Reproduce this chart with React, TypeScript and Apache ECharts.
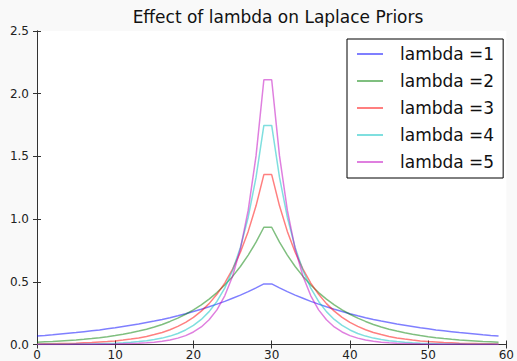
import React, { useEffect, useRef } from "react";
import * as echarts from "echarts";

const xs = [0,1,2,3,4,5,6,7,8,9,10,11,12,13,14,15,16,17,18,19,20,21,22,23,24,25,26,27,28,29,30,31,32,33,34,35,36,37,38,39,40,41,42,43,44,45,46,47,48,49,50,51,52,53,54,55,56,57,58,59];

const lambda1 = [0.068,0.072,0.077,0.083,0.089,0.095,0.102,0.109,0.116,0.125,0.133,0.143,0.153,0.163,0.175,0.187,0.200,0.214,0.229,0.245,0.263,0.281,0.301,0.322,0.344,0.369,0.394,0.422,0.452,0.483,0.483,0.452,0.422,0.394,0.369,0.344,0.322,0.301,0.281,0.263,0.245,0.229,0.214,0.200,0.187,0.175,0.163,0.153,0.143,0.133,0.125,0.116,0.109,0.102,0.095,0.089,0.083,0.077,0.072,0.068];
const lambda2 = [0.018,0.021,0.024,0.028,0.032,0.036,0.041,0.047,0.054,0.062,0.071,0.081,0.093,0.107,0.122,0.140,0.160,0.184,0.210,0.241,0.276,0.316,0.362,0.414,0.474,0.543,0.622,0.713,0.816,0.935,0.935,0.816,0.713,0.622,0.543,0.474,0.414,0.362,0.316,0.276,0.241,0.210,0.184,0.160,0.140,0.122,0.107,0.093,0.081,0.071,0.062,0.054,0.047,0.041,0.036,0.032,0.028,0.024,0.021,0.018];
const lambda3 = [0.004,0.005,0.006,0.007,0.008,0.010,0.013,0.015,0.019,0.023,0.028,0.035,0.043,0.052,0.064,0.079,0.096,0.118,0.145,0.177,0.217,0.266,0.326,0.400,0.490,0.601,0.736,0.902,1.106,1.355,1.355,1.106,0.902,0.736,0.601,0.490,0.400,0.326,0.266,0.217,0.177,0.145,0.118,0.096,0.079,0.064,0.052,0.043,0.035,0.028,0.023,0.019,0.015,0.013,0.010,0.008,0.007,0.006,0.005,0.004];
const lambda4 = [0.001,0.001,0.001,0.002,0.002,0.003,0.003,0.004,0.006,0.008,0.010,0.013,0.017,0.023,0.030,0.039,0.051,0.067,0.088,0.116,0.152,0.200,0.262,0.343,0.450,0.590,0.774,1.015,1.332,1.747,1.747,1.332,1.015,0.774,0.590,0.450,0.343,0.262,0.200,0.152,0.116,0.088,0.067,0.051,0.039,0.030,0.023,0.017,0.013,0.010,0.008,0.006,0.004,0.003,0.003,0.002,0.002,0.001,0.001,0.001];
const lambda5 = [0.000,0.000,0.000,0.000,0.000,0.001,0.001,0.001,0.002,0.002,0.003,0.005,0.007,0.009,0.013,0.018,0.026,0.036,0.051,0.071,0.100,0.140,0.197,0.276,0.388,0.544,0.763,1.071,1.504,2.111,2.111,1.504,1.071,0.763,0.544,0.388,0.276,0.197,0.140,0.100,0.071,0.051,0.036,0.026,0.018,0.013,0.009,0.007,0.005,0.003,0.002,0.002,0.001,0.001,0.001,0.000,0.000,0.000,0.000,0.000];

const seriesNames = ["lambda =1", "lambda =2", "lambda =3", "lambda =4", "lambda =5"];
const seriesValues = [lambda1, lambda2, lambda3, lambda4, lambda5];
const seriesColors = ["#0000ff", "#008000", "#ff0000", "#00bfbf", "#bf00bf"];

const FONT = "DejaVu Sans";
const AXIS_COLOR = "#333";

export default function App() {
  const ref = useRef<HTMLDivElement>(null);
  useEffect(() => {
    if (!ref.current) return;
    const chart = echarts.init(ref.current, undefined, { renderer: "svg" });
    const tickCommon = { show: true, inside: true, length: 4, lineStyle: { color: AXIS_COLOR, width: 1 } };
    const lineCommon = { show: true, lineStyle: { color: AXIS_COLOR, width: 1 } };
    chart.setOption({
      animation: false,
      backgroundColor: "#f9f9f9",
      textStyle: { fontFamily: FONT },
      title: {
        text: "Effect of lambda on Laplace Priors",
        left: 273,
        textAlign: "center",
        top: 3,
        textStyle: { fontFamily: FONT, fontSize: 17, fontWeight: "normal", color: "#111" },
      },
      grid: {
        left: 37,
        right: 7.5,
        top: 31,
        bottom: 16.5,
        show: true,
        backgroundColor: "#ffffff",
        borderWidth: 0,
      },
      legend: {
        orient: "vertical",
        left: 347,
        top: 39,
        padding: [5, 9, 6, 10],
        borderColor: "#000",
        borderWidth: 1,
        backgroundColor: "#ffffff",
        itemWidth: 26,
        itemHeight: 2,
        itemGap: 7,
        icon: "rect",
        textStyle: { fontFamily: FONT, fontSize: 17, lineHeight: 20, color: "#111", padding: [0, 0, 0, 12] },
        data: seriesNames,
      },
      xAxis: [
        {
          type: "value",
          min: 0,
          max: 60,
          interval: 10,
          position: "bottom",
          axisLine: lineCommon,
          axisTick: tickCommon,
          splitLine: { show: false },
          axisLabel: { fontFamily: FONT, fontSize: 12, color: "#222", margin: 4 },
        },
        {
          type: "value",
          min: 0,
          max: 60,
          interval: 10,
          position: "top",
          axisLine: lineCommon,
          axisTick: tickCommon,
          splitLine: { show: false },
          axisLabel: { show: false },
        },
      ],
      yAxis: [
        {
          type: "value",
          min: 0,
          max: 2.5,
          interval: 0.5,
          position: "left",
          axisLine: lineCommon,
          axisTick: tickCommon,
          splitLine: { show: false },
          axisLabel: {
            fontFamily: FONT,
            fontSize: 12,
            color: "#222",
            margin: 8,
            formatter: (v: number) => v.toFixed(1),
          },
        },
        {
          type: "value",
          min: 0,
          max: 2.5,
          interval: 0.5,
          position: "right",
          axisLine: lineCommon,
          axisTick: tickCommon,
          splitLine: { show: false },
          axisLabel: { show: false },
        },
      ],
      series: seriesNames.map((name, k) => ({
        name,
        type: "line",
        xAxisIndex: 0,
        yAxisIndex: 0,
        showSymbol: false,
        symbol: "none",
        data: xs.map((x, i) => [x, seriesValues[k][i]]),
        itemStyle: { color: seriesColors[k], opacity: 0.5 },
        lineStyle: { color: seriesColors[k], width: 1.5, opacity: 0.5 },
        emphasis: { disabled: true },
      })),
    });
    return () => chart.dispose();
  }, []);
  return <div ref={ref} style={{ position: "fixed", left: 0, top: 0, width: 517, height: 361 }} />;
}
